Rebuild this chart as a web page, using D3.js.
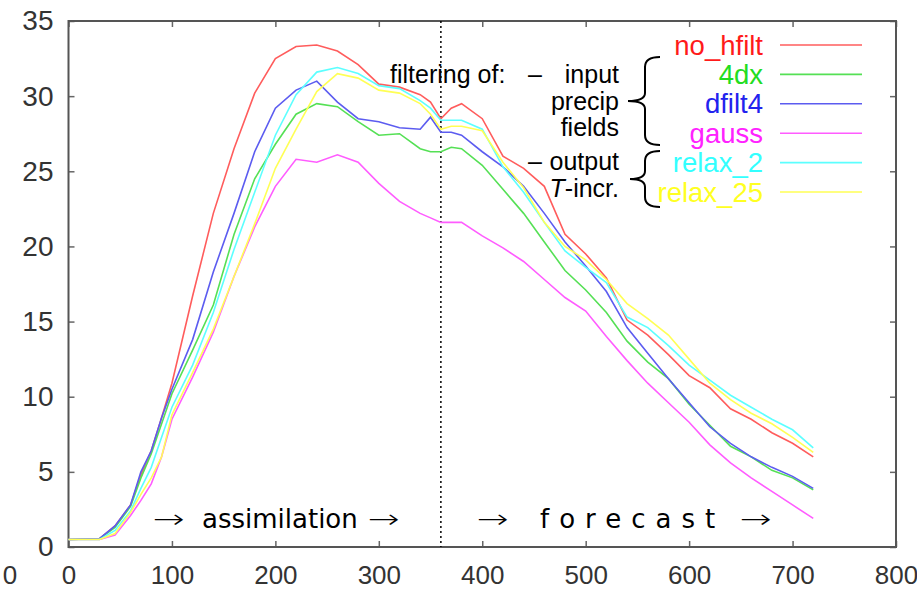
<!DOCTYPE html>
<html>
<head>
<meta charset="utf-8">
<script src="https://cdn.jsdelivr.net/npm/d3@7"></script>
<style>
  body { margin: 0; background: #fff; }
  svg { display: block; }
  .tick text { font-family: "Liberation Sans", Arial, sans-serif; fill: #333; }
</style>
</head>
<body>
<div id="chart"></div>
<script>
// time axis (hours) shared by all runs
var hours = [0, 30, 45, 60, 70, 80, 90, 100, 120, 140, 160, 180, 200, 220, 240, 260, 280, 300, 320,
  340, 350, 360, 370, 380, 400, 420, 440, 460, 480, 500, 520, 540, 560, 580, 600, 620, 640, 660, 680, 700, 720]

var no_hfilt = [0.5, 0.55, 1.4, 2.8, 4.8, 6.4, 8.6, 10.9, 16.7, 22.2, 26.5, 30.2, 32.5, 33.3, 33.4, 33.0, 32.1, 30.8, 30.6,
  30.1, 29.6, 28.5, 29.2, 29.5, 28.5, 26.0, 25.2, 24.0, 20.8, 19.5, 17.9, 15.1, 14.1, 12.8, 11.4, 10.6, 9.2, 8.5, 7.6, 6.9, 6.0]
var dx4 = [0.5, 0.55, 1.3, 2.7, 4.6, 6.2, 8.2, 10.2, 13.1, 16.1, 20.8, 24.5, 26.8, 28.8, 29.5, 29.3, 28.3, 27.4, 27.5,
  26.5, 26.3, 26.3, 26.6, 26.5, 25.4, 23.8, 22.2, 20.3, 18.4, 17.1, 15.6, 13.7, 12.3, 11.2, 9.5, 8.1, 6.7, 6.0, 5.1, 4.6, 3.8]
var dfilt4 = [0.5, 0.55, 1.4, 2.8, 5.0, 6.4, 8.6, 10.5, 13.8, 18.3, 22.2, 26.3, 29.2, 30.4, 31.0, 29.6, 28.5, 28.3, 27.9,
  27.8, 28.6, 27.6, 27.6, 27.4, 26.3, 25.3, 24.0, 22.2, 20.3, 18.7, 17.0, 14.6, 12.9, 11.2, 9.6, 8.0, 6.9, 6.0, 5.3, 4.7, 3.9]
var gauss = [0.5, 0.5, 0.8, 2.1, 3.1, 4.2, 6.0, 8.5, 11.3, 14.3, 18.0, 21.3, 24.0, 25.8, 25.6, 26.1, 25.6, 24.2, 23.0,
  22.2, 21.9, 21.6, 21.6, 21.6, 20.7, 19.9, 19.0, 17.8, 16.6, 15.7, 14.0, 12.4, 10.9, 9.6, 8.3, 6.8, 5.6, 4.6, 3.7, 2.8, 1.9]
var relax_2 = [0.5, 0.5, 1.1, 2.4, 3.9, 5.3, 7.3, 9.3, 12.1, 15.6, 19.8, 23.6, 27.4, 30.1, 31.6, 31.9, 31.5, 30.7, 30.5,
  29.7, 29.2, 28.4, 28.4, 28.4, 27.8, 25.3, 23.6, 21.6, 19.7, 18.6, 17.6, 15.3, 14.6, 13.4, 12.1, 11.1, 10.1, 9.3, 8.5, 7.8, 6.6]
var relax_25 = [0.5, 0.5, 0.9, 2.3, 3.5, 4.6, 6.0, 8.8, 11.6, 14.5, 18.0, 21.5, 25.2, 27.8, 30.3, 31.5, 31.2, 30.4, 30.2,
  29.5, 28.8, 27.8, 28.0, 28.0, 27.7, 25.6, 23.9, 21.6, 20.0, 19.1, 17.8, 16.2, 15.2, 14.1, 12.5, 10.9, 9.8, 8.9, 8.2, 7.3, 6.3]

var names = ['no_hfilt', '4dx', 'dfilt4', 'gauss', 'relax_2', 'relax_25']
var series = [no_hfilt, dx4, dfilt4, gauss, relax_2, relax_25]
var lineColors = ['#ff5c5c', '#55e055', '#5c5cf0', '#ff5cff', '#5cffff', '#ffff55']
var textColors = ['#ff1a1a', '#22dd22', '#2222ee', '#ff22ff', '#33ffff', '#ffff22']

var xTicks = [0, 100, 200, 300, 400, 500, 600, 700, 800]
var yTicks = [0, 5, 10, 15, 20, 25, 30, 35]
var switchHour = 360

var W = 917, H = 590
var m = {left: 68.5, top: 21, right: 21, bottom: 43}
var iw = W - m.left - m.right, ih = H - m.top - m.bottom

var svg = d3.select('#chart').append('svg').attr('width', W).attr('height', H)
var g = svg.append('g').attr('transform', 'translate(' + m.left + ',' + m.top + ')')

var x = d3.scaleLinear().domain([0, 800]).range([0, iw])
var y = d3.scaleLinear().domain([0, 35]).range([ih, 0])

// axes, ticks pointing inwards
var gx = g.append('g').attr('transform', 'translate(0,' + ih + ')')
  .call(d3.axisBottom(x).tickValues(xTicks).tickSize(-6).tickPadding(19))
var gy = g.append('g')
  .call(d3.axisLeft(y).tickValues(yTicks).tickSize(-6).tickPadding(15))
g.append('g').call(d3.axisTop(x).tickValues(xTicks).tickSize(-6).tickFormat(''))
g.append('g').attr('transform', 'translate(' + iw + ',0)')
  .call(d3.axisRight(y).tickValues(yTicks).tickSize(-6).tickFormat(''))
g.selectAll('.domain').remove()
g.selectAll('.tick line').attr('stroke', '#666').attr('stroke-width', 1.5)
gx.selectAll('text').attr('font-size', 26)
gy.selectAll('text').attr('font-size', 28)

// stray clipped label at far left of the original figure
svg.append('text').attr('x', 10).attr('y', 584).attr('text-anchor', 'middle')
  .attr('font-family', 'Liberation Sans, Arial, sans-serif').attr('font-size', 26).attr('fill', '#333').text('0')

g.append('rect').attr('width', iw).attr('height', ih)
  .attr('fill', 'none').attr('stroke', '#555').attr('stroke-width', 2)

// switch from assimilation to forecast
g.append('line').attr('x1', x(switchHour)).attr('x2', x(switchHour)).attr('y1', 0).attr('y2', ih)
  .attr('stroke', '#000').attr('stroke-width', 1.5).attr('stroke-dasharray', '2,3')

var line = d3.line().x((d, i) => x(hours[i])).y(d => y(d))
series.forEach((s, i) => {
  g.append('path').datum(s).attr('d', line)
    .attr('fill', 'none').attr('stroke', lineColors[i]).attr('stroke-width', 1.6)
})

// legend
var lg = svg.append('g')
names.forEach((n, i) => {
  var cy = 45 + i * 29.4
  lg.append('text').attr('x', 763).attr('y', cy).attr('dy', '0.35em').attr('text-anchor', 'end')
    .attr('font-family', 'Liberation Sans, Arial, sans-serif').attr('font-size', 27.5)
    .attr('fill', textColors[i]).text(n)
  lg.append('line').attr('x1', 780).attr('x2', 862).attr('y1', cy).attr('y2', cy)
    .attr('stroke', lineColors[i]).attr('stroke-width', 1.6)
})

// annotation
var ann = svg.append('g').attr('font-family', 'Liberation Sans, Arial, sans-serif')
  .attr('font-size', 25).attr('fill', '#000')
ann.append('text').attr('x', 390).attr('y', 83).text('filtering of:')
ann.append('text').attr('x', 528).attr('y', 83).text('–')
ann.append('text').attr('x', 619).attr('y', 83).attr('text-anchor', 'end').text('input')
ann.append('text').attr('x', 619).attr('y', 110).attr('text-anchor', 'end').text('precip')
ann.append('text').attr('x', 619).attr('y', 136).attr('text-anchor', 'end').text('fields')
ann.append('text').attr('x', 528).attr('y', 170).text('–')
ann.append('text').attr('x', 619).attr('y', 170).attr('text-anchor', 'end').text('output')
var ti = ann.append('text').attr('x', 619).attr('y', 197).attr('text-anchor', 'end')
ti.append('tspan').attr('font-style', 'italic').text('T')
ti.append('tspan').text('-incr.')

var brace = (top, bot, tipY, tipX) => {
  var bx = 645, ex = 660
  return 'M' + ex + ',' + top + ' Q' + bx + ',' + top + ' ' + bx + ',' + (top + 10) +
    ' L' + bx + ',' + (tipY - 8) + ' Q' + bx + ',' + tipY + ' ' + tipX + ',' + tipY +
    ' Q' + bx + ',' + tipY + ' ' + bx + ',' + (tipY + 8) +
    ' L' + bx + ',' + (bot - 10) + ' Q' + bx + ',' + bot + ' ' + ex + ',' + bot
}
svg.append('path').attr('d', brace(57, 145, 101, 628)).attr('fill', 'none').attr('stroke', '#000').attr('stroke-width', 2)
svg.append('path').attr('d', brace(151, 207, 179, 630)).attr('fill', 'none').attr('stroke', '#000').attr('stroke-width', 2)

// phase labels
var ph = svg.append('g').attr('font-family', 'DejaVu Sans, sans-serif').attr('font-size', 26).attr('fill', '#000')
var arrow = (ax) => ph.append('text').attr('x', ax).attr('y', 528).attr('textLength', 32)
  .attr('lengthAdjust', 'spacingAndGlyphs').attr('font-weight', 300).text('→')
arrow(153)
ph.append('text').attr('x', 202).attr('y', 528).text('assimilation')
arrow(368)
arrow(477)
ph.append('text').attr('x', 540).attr('y', 528).attr('letter-spacing', 10).text('forecast')
arrow(740)
</script>
</body>
</html>
